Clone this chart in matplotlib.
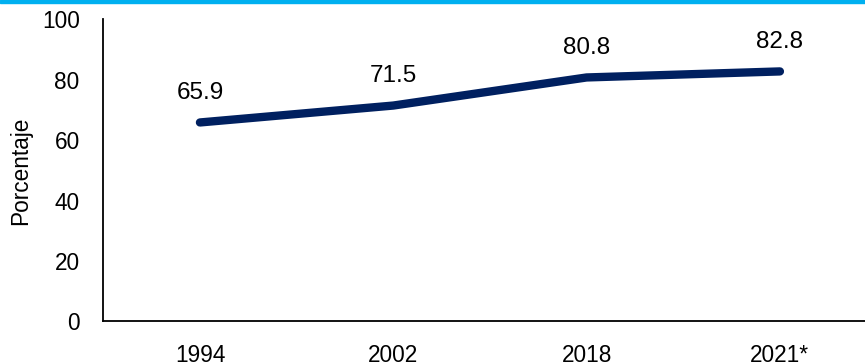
import matplotlib.pyplot as plt
from matplotlib.patches import Rectangle

# Data
years = ["1994", "2002", "2018", "2021*"]
values = [65.9, 71.5, 80.8, 82.8]

plt.rcParams['font.family'] = ['Liberation Sans', 'DejaVu Sans']

fig = plt.figure(figsize=(8.65, 3.64), dpi=100)
ax = fig.add_axes([0.1194, 0.1168, 0.894, 0.8297])

x = list(range(len(years)))
ax.plot(x, values, color='#002060', lw=6, solid_capstyle='round', solid_joinstyle='round')

for xi, v in zip(x, values):
    ax.annotate(f"{v:.1f}", (xi, v), xytext=(0, 17), textcoords='offset points',
                ha='center', va='baseline', fontsize=17.5)

ax.set_xlim(-0.5, len(years) - 0.5)
ax.set_ylim(0, 100)
ax.set_xticks(x)
ax.set_xticklabels(years)
ax.set_yticks(range(0, 101, 20))
ax.tick_params(axis='both', length=0, labelsize=16.3)
ax.tick_params(axis='x', pad=16)
ax.tick_params(axis='y', pad=17)
ax.set_ylabel("Porcentaje", fontsize=16.3, labelpad=7)

for s in ['top', 'right']:
    ax.spines[s].set_visible(False)
for s in ['left', 'bottom']:
    ax.spines[s].set_linewidth(1.3)
    ax.spines[s].set_color('black')

# cyan band along the top edge
fig.patches.append(Rectangle((0, 1 - 3 / 364), 1, 3 / 364, transform=fig.transFigure,
                             color='#00B0F0', zorder=5))

fig.savefig("out.png", dpi=100)
